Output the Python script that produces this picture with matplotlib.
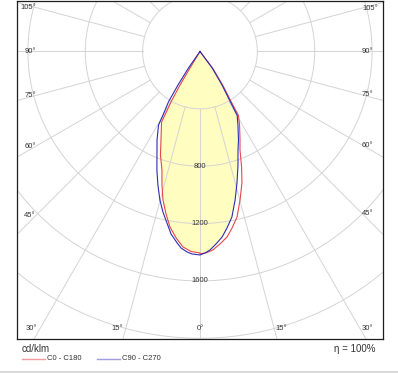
import numpy as np
import matplotlib.pyplot as plt
from matplotlib.patches import Polygon
from matplotlib.lines import Line2D

plt.rcParams['font.family'] = ['Liberation Sans', 'DejaVu Sans']

# intensity distribution (cd/klm), gamma in degrees
c0_gamma = [0, 2, 3.7, 5.9, 8.3, 10.3, 12.6, 15.1, 17.7, 19.8, 22.1, 24.3, 28.3, 31, 31.8, 34, 37, 41]
c0_cd = [1412, 1403, 1387, 1350, 1307, 1251, 1183, 1072, 962, 856, 741, 678, 582, 520, 414, 284, 150, 0]
c180_gamma = [0, 2.6, 5, 7.3, 9.7, 11.8, 14, 15.9, 17.8, 20.9, 23.8, 28.6, 28.9, 29.9, 30.8, 31.2, 33]
c180_cd = [1405, 1396, 1368, 1311, 1242, 1158, 1067, 968, 868, 773, 674, 560, 506, 406, 272, 135, 0]

c90_gamma = [0, 1.4, 2.9, 4.75, 6.8, 8.7, 10.9, 13.3, 15.7, 18.5, 21.1, 23.5, 27.3, 30.2, 31.1, 33.3, 36.5, 40]
c90_cd = [1419, 1406, 1386, 1347, 1303, 1245, 1176, 1064, 953, 835, 736, 673, 577, 515, 411, 279, 141, 0]
c270_gamma = [0, 2.3, 3.7, 5.5, 6.8, 9, 10.9, 13, 15.1, 17.5, 20, 22.6, 25.9, 29.4, 30.2, 32, 33.3, 34.9, 38]
c270_cd = [1419, 1413, 1401, 1377, 1345, 1289, 1218, 1149, 1073, 976, 879, 781, 686, 589, 512, 415, 279, 140, 0]

rings = [400, 800, 1200, 1600, 2000, 2400]
ring_labels = [800, 1200, 1600]
angle_labels = [105, 90, 75, 60, 45, 30, 15, 0]
spoke_step = 15

red = '#e5474b'
blue = '#2d2db4'
grid_c = '#d4d4d4'
txt_c = '#333333'


def plane_xy(g_right, i_right, g_left, i_left):
    # left half (C180 / C270) drawn with negative gamma
    g = np.concatenate([-np.array(g_left)[::-1], np.array(g_right)])
    i = np.concatenate([np.array(i_left)[::-1], np.array(i_right)])
    t = np.radians(g)
    return i * np.sin(t), -i * np.cos(t)


fig = plt.figure(figsize=(3.98, 3.73), dpi=100)
ax = fig.add_axes([17 / 398, 34 / 373, 366 / 398, 338 / 373])
ax.set_xlim(-1276, 1276)
ax.set_ylim(-2005, 352)
ax.set_xticks([])
ax.set_yticks([])
for s in ax.spines.values():
    s.set_color('#1e1e1e')
    s.set_linewidth(0.9)

x0, y0 = plane_xy(c0_gamma, c0_cd, c180_gamma, c180_cd)
x90, y90 = plane_xy(c90_gamma, c90_cd, c270_gamma, c270_cd)

# filled area = overlap of both planes
fill = Polygon(np.column_stack([x0, y0]), closed=True, facecolor='#fffdc0',
               edgecolor='none', zorder=0)
ax.add_patch(fill)
clip = Polygon(np.column_stack([x90, y90]), closed=True, transform=ax.transData)
fill.set_clip_path(clip)

# grid: rings and spokes (spokes start at the first ring)
th = np.linspace(0, 2 * np.pi, 400)
for r in rings:
    ax.plot(r * np.cos(th), r * np.sin(th), color=grid_c, lw=0.7, zorder=1)
for a in range(0, 360, spoke_step):
    t = np.radians(a)
    ax.plot([rings[0] * np.sin(t), 3500 * np.sin(t)],
            [-rings[0] * np.cos(t), -3500 * np.cos(t)],
            color=grid_c, lw=0.7, zorder=1)

for r in ring_labels:
    ax.text(0, -r, str(r), ha='center', va='center', fontsize=5.5,
            color=txt_c, zorder=2)

# angle labels where the spokes meet the frame
sx_left, sx_right, sy_bot = -1144, 1130, -1935
for a in angle_labels:
    t = np.radians(a)
    sides = [0] if a == 0 else [-1, 1]
    for side in sides:
        t_side = abs(sx_left if side < 0 else sx_right) / np.sin(t) if np.sin(t) > 1e-6 else np.inf
        t_bot = abs(sy_bot) / np.cos(t) if np.cos(t) > 1e-6 else np.inf
        if t_side < t_bot:
            px = sx_left if side < 0 else sx_right
            py = -np.cos(t) * t_side
            ha = 'right' if side < 0 else 'left'
        else:
            py = sy_bot
            px = side * np.sin(t) * t_bot
            if side < 0:
                px -= 21
                ha = 'right'
            elif side > 0:
                px += 7
                ha = 'left'
            else:
                ha = 'center'
        ax.text(px, py, f'{a}°', ha=ha, va='center', fontsize=5.5,
                color=txt_c, zorder=2)

ax.plot(x0, y0, color=red, lw=0.8, zorder=3)
ax.plot(x90, y90, color=blue, lw=0.8, zorder=4)

# legend / footer
def fy(p):
    return 1 - p / 373

fig.text(22 / 398, fy(349), 'cd/klm', fontsize=7, color=txt_c, va='center')
fig.add_artist(Line2D([22 / 398, 45 / 398], [fy(358.5)] * 2, color='#f09a9c', lw=1.0))
fig.text(47 / 398, fy(358.5), 'C0 - C180', fontsize=5.5, color=txt_c, va='center')
fig.add_artist(Line2D([97 / 398, 120 / 398], [fy(358.5)] * 2, color='#9d9de0', lw=1.0))
fig.text(122 / 398, fy(358.5), 'C90 - C270', fontsize=5.5, color=txt_c, va='center')
fig.text(376 / 398, fy(349), 'η = 100%', fontsize=7, color=txt_c, va='center', ha='right')
fig.add_artist(Line2D([0, 1], [fy(372)] * 2, color='#d9d9d9', lw=1.5))

fig.savefig('out.png', dpi=100)
